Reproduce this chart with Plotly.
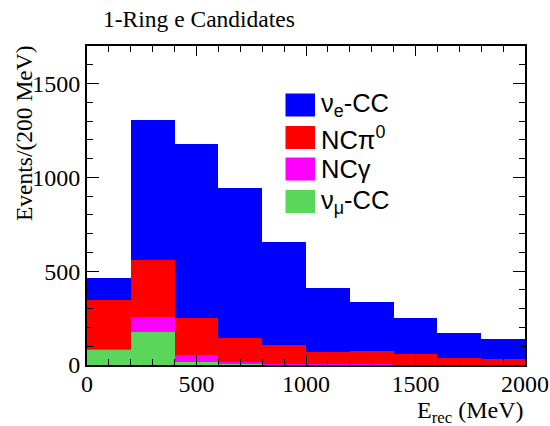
import plotly.graph_objects as go

# Bin edges (MeV)
bin_edges = [0, 200, 400, 600, 800, 1000, 1200, 1400, 1600, 1800, 2000]

# Stacked components (events / 200 MeV), bottom to top
numu_cc = [84, 177, 18, 6, 2, 1, 1, 1, 1, 0]
nc_gamma = [2, 78, 36, 12, 3, 2, 2, 1, 1, 1]
nc_pi0 = [260, 303, 197, 127, 101, 68, 73, 57, 37, 31]
nue_cc = [119, 749, 925, 800, 549, 337, 259, 194, 130, 105]

series_names = ["ν<sub>μ</sub>-CC", "NCγ", "NCπ<sup>0</sup>", "ν<sub>e</sub>-CC"]
series_values = [numu_cc, nc_gamma, nc_pi0, nue_cc]
series_colors = ["#5ad65a", "#ff00ff", "#ff0000", "#0000ff"]

x_ticks = [0, 500, 1000, 1500, 2000]
y_ticks = [0, 500, 1000, 1500]

centers = [(a + b) / 2 for a, b in zip(bin_edges[:-1], bin_edges[1:])]
widths = [b - a for a, b in zip(bin_edges[:-1], bin_edges[1:])]

fig = go.Figure()
for name, vals, col in zip(series_names, series_values, series_colors):
    fig.add_trace(go.Bar(x=centers, y=vals, width=widths, name=name,
                         marker=dict(color=col, line=dict(width=0)),
                         showlegend=False))

L, R, T, B = 87, 25, 46, 61
W, H = 550, 426
pw, ph = W - L - R, H - T - B

def px(x):
    return (x - L) / pw

def py(y):
    return (H - B - y) / ph

serif = "Liberation Serif, Times New Roman, serif"
sans = "Liberation Sans, Arial, sans-serif"

fig.update_layout(
    width=W, height=H, autosize=False,
    margin=dict(l=L, r=R, t=T, b=B, pad=0, autoexpand=False),
    paper_bgcolor="white", plot_bgcolor="white",
    barmode="stack", bargap=0,
    font=dict(family=serif, size=24, color="black"),
    xaxis=dict(range=[0, 2000], tickvals=x_ticks, ticks="inside", ticklen=10,
               tickwidth=1, tickcolor="black", showline=True, linecolor="black",
               linewidth=2, mirror="ticks", showgrid=False, zeroline=False,
               automargin=False, ticklabelstandoff=-4,
               tickfont=dict(family=serif, size=24),
               minor=dict(dtick=100, tick0=0, ticks="inside", ticklen=6,
                          tickwidth=1, tickcolor="black", showgrid=False)),
    yaxis=dict(range=[0, 1700], tickvals=y_ticks, ticks="inside", ticklen=12,
               tickwidth=1, tickcolor="black", showline=True, linecolor="black",
               linewidth=2, mirror="ticks", showgrid=False, zeroline=False,
               automargin=False, tickfont=dict(family=serif, size=24),
               minor=dict(dtick=100, tick0=0, ticks="inside", ticklen=6,
                          tickwidth=1, tickcolor="black", showgrid=False)),
)

annotations = [
    dict(text="1-Ring e Candidates", xref="paper", yref="paper",
         x=px(101), y=py(19), xanchor="left", yanchor="middle",
         showarrow=False, font=dict(family=serif, size=23.5)),
    dict(text="Events/(200 MeV)", xref="paper", yref="paper",
         x=px(24), y=py(43), xanchor="center", yanchor="top", textangle=-90,
         showarrow=False, font=dict(family=serif, size=23.5)),
    dict(text="E<sub>rec</sub> (MeV)", xref="paper", yref="paper",
         x=1.0, y=py(412), xanchor="right", yanchor="middle",
         showarrow=False, font=dict(family=serif, size=24)),
]

# Legend (drawn as boxes + labels inside the frame)
legend_order = [3, 2, 1, 0]
box_tops = [93.5, 126, 157.5, 190]
shapes = []
for idx, top in zip(legend_order, box_tops):
    shapes.append(dict(type="rect", xref="paper", yref="paper",
                       x0=px(285.5), x1=px(315), y0=py(top + 23), y1=py(top),
                       fillcolor=series_colors[idx], line=dict(width=0)))
    annotations.append(dict(text=series_names[idx], xref="paper", yref="paper",
                            x=px(319), y=py(top + 11.5), xanchor="left",
                            yanchor="middle", showarrow=False,
                            font=dict(family=sans, size=25.5)))

fig.update_layout(annotations=annotations, shapes=shapes)
fig.write_html("out.html")
